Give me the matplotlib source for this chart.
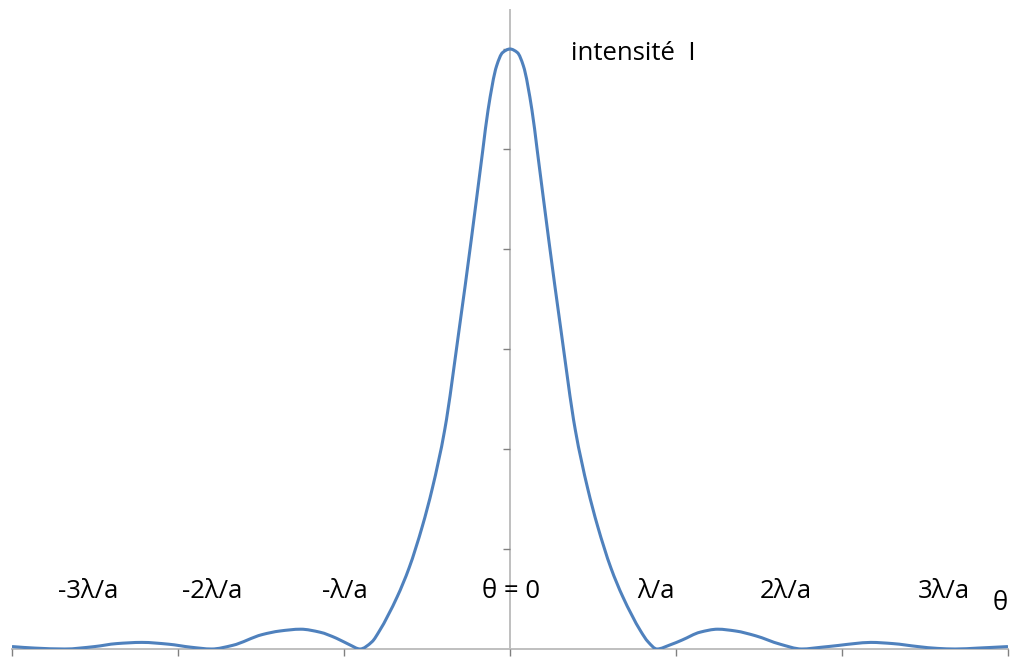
import numpy as np
import matplotlib
matplotlib.use("Agg")
import matplotlib.pyplot as plt
from matplotlib.path import Path
from matplotlib.patches import PathPatch

# --- data (theta in units of lambda/a, relative intensity) ---
theta_right = [0.0, 0.05, 0.09, 0.148, 0.183, 0.261, 0.343, 0.44, 0.523,
               0.59, 0.68, 0.76, 0.88, 0.93, 0.99, 1.08, 1.16, 1.28,
               1.40, 1.52, 1.655, 1.82, 1.966, 2.10, 2.215, 2.32, 2.43, 2.58,
               2.75, 2.88, 3.0, 3.15, 3.35]
intensity_right = [1.0, 0.994, 0.972, 0.898, 0.832, 0.682, 0.532, 0.365, 0.268,
                   0.205, 0.135, 0.087, 0.030, 0.012, 0.0, 0.007, 0.015, 0.028,
                   0.033, 0.030, 0.022, 0.008, 0.0, 0.003, 0.006, 0.009, 0.011, 0.009,
                   0.004, 0.001, 0.0, 0.0015, 0.004]
theta_left = [-3.35, -3.2, -3.0, -2.8, -2.65, -2.48, -2.3, -2.15, -2.01, -1.87,
              -1.67, -1.55, -1.41, -1.28, -1.17, -1.08, -1.01]
intensity_left = [0.004, 0.0015, 0.0, 0.004, 0.009, 0.011, 0.008, 0.003, 0.0, 0.006,
                  0.024, 0.030, 0.033, 0.028, 0.018, 0.007, 0.0]

tick_labels = ["-3λ/a", "-2λ/a", "-λ/a", "θ = 0", "λ/a", "2λ/a", "3λ/a"]

# full curve: left side lobes + mirrored main lobe + right side
n_main = theta_right.index(0.99)
main_neg_t = [-t for t in theta_right[1:n_main]][::-1]
main_neg_i = intensity_right[1:n_main][::-1]
theta = theta_left + main_neg_t + theta_right
intensity = intensity_left + main_neg_i + intensity_right

W, H = 1010, 661
fig = plt.figure(figsize=(W / 100, H / 100), dpi=100)
ax = fig.add_axes([12 / W, (H - 649) / H, 996 / W, 639 / H])

xl = 3.355
ax.set_xlim(-xl, xl)
ax.set_ylim(0, 639 / 600)

# smoothed line drawn as Bezier segments through the read points (monotone tangents)
x = np.asarray(theta, float)
y = np.asarray(intensity, float)
h = np.diff(x)
d = np.diff(y) / h
m = np.zeros_like(y)
for i in range(1, len(y) - 1):
    if d[i - 1] * d[i] > 0:
        w1 = 2 * h[i] + h[i - 1]
        w2 = h[i] + 2 * h[i - 1]
        m[i] = (w1 + w2) / (w1 / d[i - 1] + w2 / d[i])
m[0] = d[0]
m[-1] = d[-1]
verts = [(x[0], y[0])]
codes = [Path.MOVETO]
for i in range(len(x) - 1):
    verts += [(x[i] + h[i] / 3, y[i] + m[i] * h[i] / 3),
              (x[i + 1] - h[i] / 3, y[i + 1] - m[i + 1] * h[i] / 3),
              (x[i + 1], y[i + 1])]
    codes += [Path.CURVE4] * 3
path = Path(np.array(verts), codes)
ax.add_patch(PathPatch(path, facecolor="none", edgecolor="#4F81BD", lw=2.2,
                       capstyle="round", joinstyle="round", zorder=3))

# axes styling
for s in ["top", "right"]:
    ax.spines[s].set_visible(False)
ax.spines["left"].set_position(("data", 0))
for s in ["left", "bottom"]:
    ax.spines[s].set_color("#BFBFBF")
    ax.spines[s].set_linewidth(1.4)
    ax.spines[s].set_zorder(1)

ax.set_xticks(np.linspace(-xl, xl, 7))
ax.set_yticks([k / 6 for k in range(1, 7)])
ax.tick_params(axis="x", direction="out", length=5, color="#808080", width=1,
               labelbottom=False)
ax.tick_params(axis="y", direction="out", length=5, color="#808080", width=1,
               labelleft=False)
ax.patch.set_alpha(0)

font = "Open Sans"
fs = 18.5
label_px = [88, 212, 345, 511, 656, 786, 944]
for lbl, px in zip(tick_labels, label_px):
    fig.text(px / W, 1 - 592 / H, lbl, ha="center", va="center",
             fontsize=fs, family=font, color="black")
fig.text(1000 / W, 1 - 604 / H, "θ", ha="center", va="center",
         fontsize=fs, family=font, color="black")
fig.text(571 / W, 1 - 53 / H, "intensité  I", ha="left", va="center",
         fontsize=fs, family=font, color="black")

fig.savefig("out.png", dpi=100)
